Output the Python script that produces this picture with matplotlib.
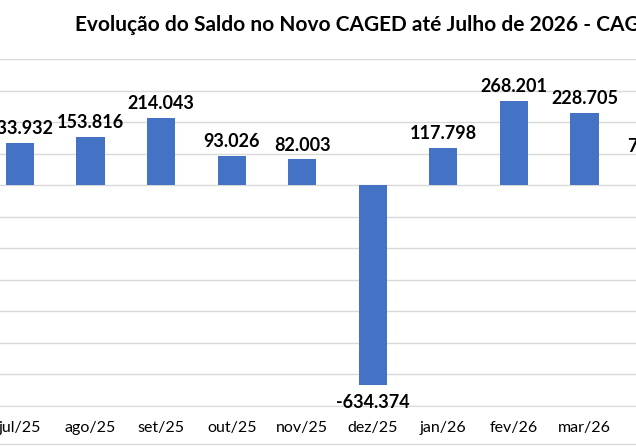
import matplotlib
matplotlib.use("Agg")
import matplotlib.pyplot as plt

months = ["jul/25", "ago/25", "set/25", "out/25", "nov/25", "dez/25",
          "jan/26", "fev/26", "mar/26", "abr/26"]
values = [133932, 153816, 214043, 93026, 82003, -634374, 117798, 268201, 228705, 79000]
title = "Evolução do Saldo no Novo CAGED até Julho de 2026 - CAGED"

plt.rcParams['font.family'] = ['Lato', 'DejaVu Sans']
W, H = 636, 446
fig = plt.figure(figsize=(W/100, H/100), dpi=100)
bot, top = 406, 59
ax = fig.add_axes([0, (H-bot)/H, 1, (bot-top)/H])
x = list(range(len(months)))
step = 70.55
ax.bar(x, values, width=0.40, color="#4472C4", zorder=3)
ax.set_yticks(range(-700000, 400001, 100000))
ax.yaxis.grid(True, color="#d9d9d9", lw=1, zorder=0)
ax.tick_params(axis='y', left=False, labelleft=False)
ax.tick_params(axis='x', bottom=False, pad=7, labelsize=11.5)
ax.set_xticks(x)
ax.set_xticklabels(months)
for s in ["top", "left", "right"]:
    ax.spines[s].set_visible(False)
ax.spines["bottom"].set_color("#d9d9d9")
for xi, v in zip(x, values):
    lab = f"{abs(v):,}".replace(",", ".")
    if v < 0:
        lab = "-" + lab
        ax.annotate(lab, (xi, v), xytext=(0, -6), textcoords="offset points",
                    ha="center", va="top", fontsize=13, fontweight="bold",
                    annotation_clip=False)
    else:
        ax.annotate(lab, (xi, v), xytext=(0, 4), textcoords="offset points",
                    ha="center", va="bottom", fontsize=13, fontweight="bold",
                    annotation_clip=False)
ax.set_xlim(-20/step, (W-20)/step)
ax.set_ylim(-700000, 400000)
fig.text(75/W, 1-25/H, title, ha="left", va="center", fontsize=15, fontweight="bold")
fig.add_artist(plt.Line2D([0, 1], [1-444/H]*2, color="#d9d9d9", lw=1))
fig.savefig("out.png", dpi=100)
